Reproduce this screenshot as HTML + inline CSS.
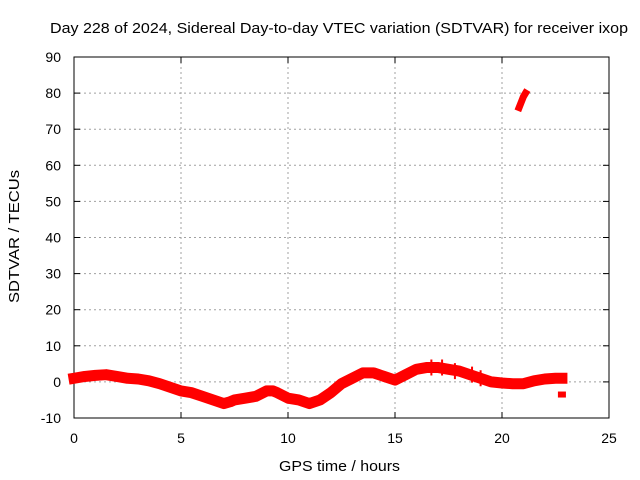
<!DOCTYPE html>
<html><head><meta charset="utf-8"><style>
body{margin:0;background:#fff}
svg{display:block;font-family:"Liberation Sans",sans-serif}
</style></head><body>
<svg id="c" width="640" height="480"></svg>
<script>
const hours=[0,0.5,1,1.5,2,2.5,3,3.5,4,4.5,5,5.5,6,6.5,7,7.3,7.5,8,8.5,9,9.3,9.5,10,10.5,11,11.5,12,12.5,13,13.5,14,14.5,15,15.5,16,16.5,17,17.5,18,18.5,19,19.5,20,20.5,21,21.5,22,22.5,22.8];
const sdtvar=[1,1.5,1.8,2,1.5,1,0.8,0.3,-0.5,-1.5,-2.5,-3,-4,-5,-6,-5.5,-5,-4.5,-4,-2.5,-2.5,-3,-4.5,-5,-6,-5,-3,-0.5,1,2.5,2.5,1.5,0.5,2,3.5,4,4,3.5,3,2,1,0,-0.3,-0.5,-0.5,0.3,0.8,1,1];
const outHours=[20.8,20.9,21,21.1];
const outVals=[76,77.5,79,80];
const spikeHours=[16.7,17.2,17.8,18.6,19];
const spikeVals=[4,4,3,2,1];
const loneHours=[22.8];
const loneVals=[-3.5];
const xTicks=[0,5,10,15,20,25];
const yTicks=[-10,0,10,20,30,40,50,60,70,80,90];
const NS="http://www.w3.org/2000/svg";
const svg=document.getElementById('c');
const X=v=>74+v*(535/25);
const Y=v=>418-(v+10)*(361/100);
function mk(t,a){const e=document.createElementNS(NS,t);for(const k in a)e.setAttribute(k,a[k]);svg.appendChild(e);return e;}
xTicks.forEach(t=>{
 if(t>0&&t<25){const g=mk('line',{x1:X(t),x2:X(t),y1:57,y2:418,stroke:'#a0a0a0','stroke-dasharray':'2,3'});
 
 }
 mk('line',{x1:X(t),x2:X(t),y1:418,y2:412,stroke:'#000'});
 mk('line',{x1:X(t),x2:X(t),y1:57,y2:63,stroke:'#000'});
 const l=mk('text',{x:X(t),y:443,'text-anchor':'middle','font-size':14});l.textContent=t;
 
 
});
yTicks.forEach(t=>{
 if(t>-10&&t<90){const g=mk('line',{x1:74,x2:609,y1:Y(t),y2:Y(t),stroke:'#a0a0a0','stroke-dasharray':'2,3'});
 
 }
 mk('line',{x1:74,x2:80,y1:Y(t),y2:Y(t),stroke:'#000'});
 mk('line',{x1:603,x2:609,y1:Y(t),y2:Y(t),stroke:'#000'});
 const l=mk('text',{x:61,y:Y(t)+5,'text-anchor':'end','font-size':14});l.textContent=t;
 
 
});
const fr=mk('rect',{x:74,y:57,width:535,height:361,fill:'none',stroke:'#000'});


function band(h,v,w,name){
 const p=mk('polyline',{points:h.map((t,i)=>X(t)+','+Y(v[i])).join(' '),fill:'none',stroke:'#f00','stroke-width':w,'stroke-linejoin':'round','stroke-linecap':'square'});
 
 
}
band(hours,sdtvar,11,'sdtvar-series');
band(outHours,outVals,7,'sdtvar-outlier-series');
function plus(t,v,s){
 const d=`M${X(t)-s},${Y(v)}h${2*s}M${X(t)},${Y(v)-s}v${2*s}`;
 const p=mk('path',{d:d,stroke:'#f00','stroke-width':2});
 
 
}
hours.forEach((t,i)=>plus(t,sdtvar[i],5));
spikeHours.forEach((t,i)=>plus(t,spikeVals[i],8));
loneHours.forEach((t,i)=>{const r=mk('rect',{x:X(t)-4,y:Y(loneVals[i])-3,width:8,height:6,fill:'#f00'});
 
 });
const tt=mk('text',{x:50,y:33,'font-size':15,textLength:578,lengthAdjust:'spacingAndGlyphs'});tt.textContent='Day 228 of 2024, Sidereal Day-to-day VTEC variation (SDTVAR) for receiver ixop';


const xl=mk('text',{x:279,y:471,'font-size':15,textLength:121,lengthAdjust:'spacingAndGlyphs'});xl.textContent='GPS time / hours';


const yl=mk('text',{x:0,y:0,'font-size':15,textLength:133,lengthAdjust:'spacingAndGlyphs',transform:'translate(19 303) rotate(-90)'});yl.textContent='SDTVAR / TECUs';


</script>
</body></html>
